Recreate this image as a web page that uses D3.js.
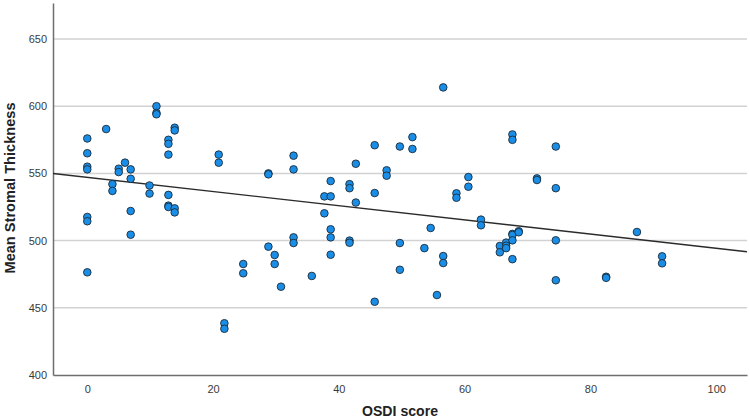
<!DOCTYPE html>
<html>
<head>
<meta charset="utf-8">
<script src="https://cdn.jsdelivr.net/npm/d3@7"></script>
<style>
  html, body { margin: 0; padding: 0; background: #fff; }
  svg { display: block; }
</style>
</head>
<body>
<svg id="chart" width="750" height="419"></svg>
<script>
// ---- Data ----
const osdiScore = [
  0, 0, 0, 0, 0, 0, 0,
  3.0, 4.0, 4.0, 5.0, 5.0, 6.0,
  6.9, 6.9, 6.9, 6.9,
  9.9, 9.9,
  11.0, 11.0, 11.0,
  12.9, 12.9, 12.9, 12.9, 12.9, 12.9,
  13.9, 13.9, 13.9, 13.9,
  20.9, 20.9, 21.8, 21.8,
  24.8, 24.8,
  28.8, 28.8, 28.8,
  29.8, 29.8, 30.8,
  32.8, 32.8, 32.8, 32.8,
  35.7, 37.7, 37.7,
  38.7, 38.7, 38.7, 38.7, 38.7,
  41.7, 41.7, 41.7, 41.7,
  42.7, 42.7,
  45.7, 45.7, 45.7,
  47.6, 47.6,
  49.7, 49.7, 49.7,
  51.7, 51.7,
  53.6, 54.6, 55.6,
  56.6, 56.6, 56.6,
  58.7, 58.7,
  60.6, 60.6,
  62.6, 62.6,
  65.6, 65.6,
  66.6, 66.6, 66.6,
  67.6, 67.6, 67.6, 67.6, 67.6, 67.6,
  68.6, 68.6,
  71.5, 71.5,
  74.5, 74.5, 74.5, 74.5,
  82.5, 82.5,
  87.4,
  91.4, 91.4
];
const stromalThickness = [
  576, 565, 555, 553, 517.6, 514.4, 476.4,
  583, 542, 537, 553.5, 551, 558,
  553, 546, 522, 504.4,
  541, 535,
  600, 595, 594,
  575, 572, 564, 534, 526, 525,
  584, 582, 524, 521,
  564, 558, 438.5, 434.4,
  482.6, 475.7,
  550, 549.3, 495.5,
  489.3, 482.6, 465.7,
  563.2, 553, 502.4, 498.2,
  473.7, 532.9, 520.3,
  532.9, 544.3, 508.4, 502.4, 489.5,
  542, 539, 500, 498.4,
  557.2, 528.3,
  571, 535.4, 454.5,
  552.3, 548.3,
  570, 498.2, 478.3,
  577, 568.2,
  494.4, 509.4, 459.5,
  614, 488.5, 483.3,
  535.2, 531.9,
  547.3, 540.1,
  515.6, 511.4,
  496, 491.3,
  498.5, 496.2, 494.4,
  579, 575, 505, 504.2, 500.2, 486.2,
  507, 506.2,
  546.3, 545.1,
  570, 539, 500.2, 470.5,
  473.1, 472.3,
  506.4,
  488.3, 483.1
];
const xTicks = [0, 20, 40, 60, 80, 100];
const yTicks = [400, 450, 500, 550, 600, 650];
const xDomain = [-5.45, 104.9];
const yDomain = [400, 676.8];
const fitIntercept = 547.1;
const fitSlope = -0.528;
const xTitle = "OSDI score";
const yTitle = "Mean Stromal Thickness";

// ---- Layout ----
const svg = d3.select("#chart");
const mLeft = 53, mRight = 747, mTop = 3, mBottom = 375;

const x = d3.scaleLinear().domain(xDomain).range([mLeft, mRight]);
const y = d3.scaleLinear().domain(yDomain).range([mBottom, mTop]);

// gridlines
svg.append("g")
  .selectAll("line")
  .data(yTicks.filter(t => t > yDomain[0]))
  .join("line")
  .attr("x1", mLeft).attr("x2", mRight)
  .attr("y1", d => y(d)).attr("y2", d => y(d))
  .attr("stroke", "#d2d2d2")
  .attr("stroke-width", 1.5);

// axes
const xAxis = d3.axisBottom(x).tickValues(xTicks).tickSize(0).tickPadding(10);
const yAxis = d3.axisLeft(y).tickValues(yTicks).tickSize(0).tickPadding(6);

const gx = svg.append("g").attr("transform", `translate(0,${mBottom})`).call(xAxis);
const gy = svg.append("g").attr("transform", `translate(${mLeft},0)`).call(yAxis);
[gx, gy].forEach(g => {
  g.select(".domain").attr("stroke", "#6e6e6e").attr("stroke-width", 1.5);
  g.selectAll("text")
    .attr("font-family", "Liberation Sans, Arial, sans-serif")
    .attr("font-size", 11)
    .attr("fill", "#3a3a3a");
});

// regression line
svg.append("line")
  .attr("x1", x(xDomain[0])).attr("y1", y(fitIntercept + fitSlope * xDomain[0]))
  .attr("x2", x(xDomain[1])).attr("y2", y(fitIntercept + fitSlope * xDomain[1]))
  .attr("stroke", "#2b2b2b")
  .attr("stroke-width", 1.4);

// points
const pts = osdiScore.map((v, i) => ({ x: v, y: stromalThickness[i] }));
svg.append("g")
  .selectAll("circle")
  .data(pts)
  .join("circle")
  .attr("cx", d => x(d.x))
  .attr("cy", d => y(d.y))
  .attr("r", 3.8)
  .attr("fill", "#1a8ee6")
  .attr("stroke", "#1b2a38")
  .attr("stroke-width", 0.9);

// titles
svg.append("text")
  .attr("x", 400)
  .attr("y", 416)
  .attr("text-anchor", "middle")
  .attr("font-family", "Liberation Sans, Arial, sans-serif")
  .attr("font-weight", "bold")
  .attr("font-size", 15)
  .attr("fill", "#222")
  .attr("textLength", 76)
  .attr("lengthAdjust", "spacingAndGlyphs")
  .text(xTitle);

svg.append("text")
  .attr("transform", `translate(15,188) rotate(-90)`)
  .attr("text-anchor", "middle")
  .attr("font-family", "Liberation Sans, Arial, sans-serif")
  .attr("font-weight", "bold")
  .attr("font-size", 15)
  .attr("fill", "#222")
  .attr("textLength", 171)
  .attr("lengthAdjust", "spacingAndGlyphs")
  .text(yTitle);
</script>
</body>
</html>
